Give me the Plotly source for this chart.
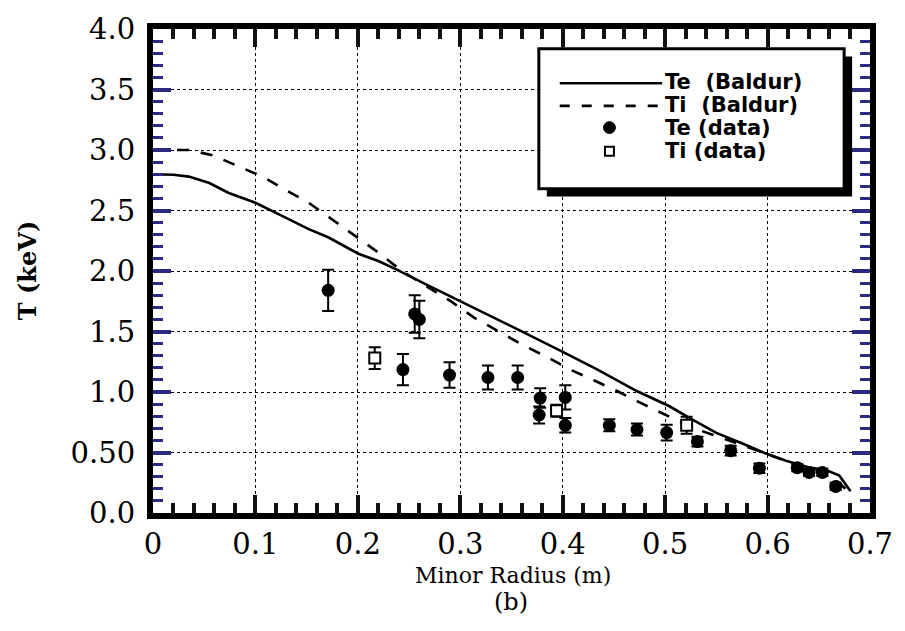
import plotly.graph_objects as go

# BALDUR simulation profiles
r_te_model = [0.0, 0.02, 0.035, 0.055, 0.074, 0.100, 0.126, 0.152, 0.171, 0.2005, 0.220,
              0.239, 0.268, 0.2976, 0.3267, 0.359, 0.401, 0.4335, 0.4723, 0.5047, 0.524,
              0.550, 0.576, 0.5985, 0.618, 0.6406, 0.660, 0.670, 0.681]
te_model = [2.80, 2.795, 2.78, 2.727, 2.645, 2.564, 2.455, 2.346, 2.279, 2.143, 2.083,
            2.007, 1.884, 1.762, 1.640, 1.505, 1.328, 1.187, 1.008, 0.880, 0.785,
            0.662, 0.573, 0.491, 0.432, 0.377, 0.345, 0.310, 0.180]

r_ti_model = [0.0, 0.035, 0.058, 0.084, 0.107, 0.129, 0.152, 0.1746, 0.197, 0.2215, 0.244,
              0.268, 0.291, 0.3138, 0.340, 0.3595, 0.385, 0.409, 0.4303, 0.4545, 0.4755,
              0.5015, 0.527, 0.547, 0.575, 0.600, 0.620, 0.640, 0.655, 0.667, 0.676]
ti_model = [3.00, 3.00, 2.957, 2.862, 2.780, 2.672, 2.564, 2.428, 2.290, 2.143, 1.993,
            1.871, 1.749, 1.613, 1.490, 1.396, 1.287, 1.179, 1.097, 1.002, 0.912,
            0.805, 0.703, 0.645, 0.560, 0.480, 0.425, 0.375, 0.330, 0.270, 0.200]

# measured profiles
r_te_data = [0.171, 0.2555, 0.260, 0.244, 0.2895, 0.327, 0.356, 0.378, 0.377, 0.4025, 0.4025,
             0.4455, 0.4725, 0.5015, 0.5315, 0.564, 0.592, 0.629, 0.6405, 0.6535, 0.6665]
te_data = [1.84, 1.645, 1.60, 1.185, 1.14, 1.12, 1.12, 0.95, 0.81, 0.955, 0.725,
           0.725, 0.69, 0.665, 0.59, 0.515, 0.37, 0.375, 0.335, 0.335, 0.22]
te_err = [0.17, 0.155, 0.155, 0.13, 0.105, 0.10, 0.10, 0.08, 0.07, 0.10, 0.06,
          0.05, 0.05, 0.065, 0.04, 0.04, 0.04, 0.03, 0.03, 0.03, 0.03]

r_ti_data = [0.2165, 0.394, 0.521]
ti_data = [1.28, 0.845, 0.725]
ti_err = [0.09, 0.05, 0.07]

# axis tick spacing and label aliases
x_major, x_minor = 0.1, 0.02
y_major, y_minor = 0.5, 0.1
y_label_alias = {"0.5": "0.50"}

legend_labels = ["Te  (Baldur)", "Ti  (Baldur)", "Te (data)", "Ti (data)"]

W, H = 905, 631
L, R, T, B = 153, 31, 22, 118
PW, PH = W - L - R, H - T - B


def px(p):
    return (p - L) / PW


def py(p):
    return (H - B - p) / PH


serif = "DejaVu Serif"
sans = "DejaVu Sans"
x_tick_ink = "#111111"
y_tick_ink = "#2a2a80"

fig = go.Figure()

fig.add_trace(go.Scatter(x=r_te_model, y=te_model, mode="lines",
                         line=dict(color="black", width=2.6),
                         showlegend=False, name="Te (Baldur)"))
fig.add_trace(go.Scatter(x=r_ti_model, y=ti_model, mode="lines",
                         line=dict(color="black", width=2.6, dash="12px,12px"),
                         showlegend=False, name="Ti (Baldur)"))
fig.add_trace(go.Scatter(x=r_te_data, y=te_data, mode="markers",
                         marker=dict(symbol="circle", size=13, color="black"),
                         error_y=dict(type="data", array=te_err, visible=True,
                                      color="black", thickness=2, width=6),
                         showlegend=False, name="Te (data)"))
fig.add_trace(go.Scatter(x=r_ti_data, y=ti_data, mode="markers",
                         marker=dict(symbol="square", size=11, color="white",
                                     line=dict(color="black", width=2)),
                         error_y=dict(type="data", array=ti_err, visible=True,
                                      color="black", thickness=2, width=6),
                         showlegend=False, name="Ti (data)"))

fig.update_xaxes(range=[0, 0.7], dtick=x_major, ticks="inside", ticklen=18, tickwidth=4,
                 tickcolor=x_tick_ink, showline=True, linewidth=6, linecolor="black",
                 mirror="ticks", showgrid=True, gridcolor="black", griddash="dot",
                 gridwidth=1.3, zeroline=False,
                 tickfont=dict(family=serif, size=29, color="black"),
                 minor=dict(dtick=x_minor, ticks="inside", ticklen=10, tickwidth=3.5,
                            tickcolor=x_tick_ink))
fig.update_yaxes(range=[0, 4.0], dtick=y_major, ticks="inside", ticklen=18, tickwidth=4,
                 tickcolor=y_tick_ink, showline=True, linewidth=6, linecolor="black",
                 mirror="ticks", showgrid=True, gridcolor="black", griddash="dot",
                 gridwidth=1.3, zeroline=False, tickformat=".1f",
                 labelalias=y_label_alias, ticklabelstandoff=6,
                 tickfont=dict(family=serif, size=29, color="black"),
                 minor=dict(dtick=y_minor, ticks="inside", ticklen=10, tickwidth=3,
                            tickcolor=y_tick_ink))

# legend panel with drop shadow
shapes = [
    dict(type="rect", xref="paper", yref="paper",
         x0=px(549), x1=px(856), y0=py(192), y1=py(50),
         fillcolor="black", line=dict(width=0), layer="above"),
    dict(type="rect", xref="paper", yref="paper",
         x0=px(541), x1=px(848), y0=py(184), y1=py(42),
         fillcolor="white", line=dict(color="black", width=3), layer="above"),
    dict(type="line", xref="paper", yref="paper",
         x0=px(562), x1=px(665), y0=py(77), y1=py(77),
         line=dict(color="black", width=2.6), layer="above"),
    dict(type="line", xref="paper", yref="paper",
         x0=px(562), x1=px(662), y0=py(100), y1=py(100),
         line=dict(color="black", width=2.6, dash="10px,12px"), layer="above"),
    dict(type="circle", xref="paper", yref="paper",
         x0=px(606), x1=px(618), y0=py(128), y1=py(116),
         fillcolor="black", line=dict(color="black", width=1), layer="above"),
    dict(type="rect", xref="paper", yref="paper",
         x0=px(607.5), x1=px(616.5), y0=py(150.5), y1=py(141.5),
         fillcolor="white", line=dict(color="black", width=2), layer="above"),
]

annotations = []
for label, yrow in zip(legend_labels, [76, 99, 122, 146]):
    annotations.append(dict(text="<b>" + label + "</b>", xref="paper", yref="paper",
                            x=px(666), y=py(yrow), xanchor="left", yanchor="middle",
                            showarrow=False,
                            font=dict(family=sans, size=21, color="black")))

annotations += [
    dict(text="<b>T (keV)</b>", xref="paper", yref="paper", x=px(27), y=py(267),
         textangle=-90, showarrow=False, xanchor="center", yanchor="middle",
         font=dict(family=serif, size=24, color="black")),
    dict(text="Minor Radius (m)", xref="paper", yref="paper", x=px(515), y=py(576),
         showarrow=False, xanchor="center", yanchor="middle",
         font=dict(family=serif, size=22, color="black")),
    dict(text="(b)", xref="paper", yref="paper", x=px(513), y=py(603),
         showarrow=False, xanchor="center", yanchor="middle",
         font=dict(family=serif, size=24, color="black")),
]

fig.update_layout(
    width=W, height=H,
    margin=dict(l=L, r=R, t=T, b=B, pad=0),
    paper_bgcolor="white", plot_bgcolor="white",
    showlegend=False,
    shapes=shapes, annotations=annotations,
)

fig.write_html("out.html")
